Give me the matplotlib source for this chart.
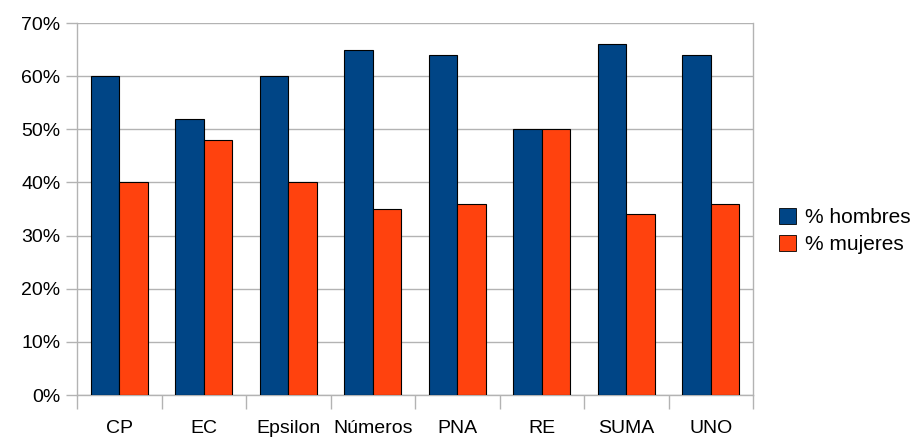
import numpy as np
import matplotlib.pyplot as plt
from matplotlib.patches import Patch
from matplotlib.ticker import FuncFormatter

plt.rcParams['font.family'] = ['Liberation Sans', 'DejaVu Sans']

categorias = ['CP', 'EC', 'Epsilon', 'Números', 'PNA', 'RE', 'SUMA', 'UNO']
hombres = [60, 52, 60, 65, 64, 50, 66, 64]
mujeres = [40, 48, 40, 35, 36, 50, 34, 36]

azul = '#004586'
naranja = '#ff420e'
gris = '#b3b3b3'

fig = plt.figure(figsize=(9.17, 4.38), dpi=100)
ax = fig.add_axes([77 / 917, 43 / 438, 676 / 917, 372 / 438])

x = np.arange(len(categorias))
w = 0.335
ax.bar(x - w / 2, hombres, w, color=azul, edgecolor='black', linewidth=0.8, zorder=3)
ax.bar(x + w / 2, mujeres, w, color=naranja, edgecolor='black', linewidth=0.8, zorder=3)

ax.set_xlim(-0.5, len(categorias) - 0.5)
ax.set_ylim(0, 70)
ax.set_yticks(range(0, 71, 10))
ax.yaxis.set_major_formatter(FuncFormatter(lambda v, p: f'{int(v)}%'))
ax.yaxis.grid(True, color=gris, linewidth=1, zorder=0)

# ticks on category boundaries, labels centred
ax.set_xticks(np.arange(-0.5, len(categorias), 1.0))
ax.set_xticklabels([])
ax.set_xticks(x, minor=True)
ax.set_xticklabels(categorias, minor=True)
ax.tick_params(axis='x', which='major', length=10, color=gris, width=1)
ax.tick_params(axis='x', which='minor', length=0, labelsize=14, pad=18)
ax.tick_params(axis='y', length=8, color=gris, width=1, labelsize=14, pad=4)

ax.spines['top'].set_visible(False)
for s in ['left', 'right', 'bottom']:
    ax.spines[s].set_color(gris)
    ax.spines[s].set_linewidth(1)

handles = [Patch(facecolor=azul, edgecolor='black', linewidth=0.6, label='% hombres'),
           Patch(facecolor=naranja, edgecolor='black', linewidth=0.6, label='% mujeres')]
fig.legend(handles=handles, loc='center left', bbox_to_anchor=(771 / 917, 1 - 231 / 438),
           frameon=False, fontsize=15, handlelength=0.8, handleheight=0.8,
           handletextpad=0.45, labelspacing=0.4, borderaxespad=0)

fig.savefig('out.png', dpi=100)
